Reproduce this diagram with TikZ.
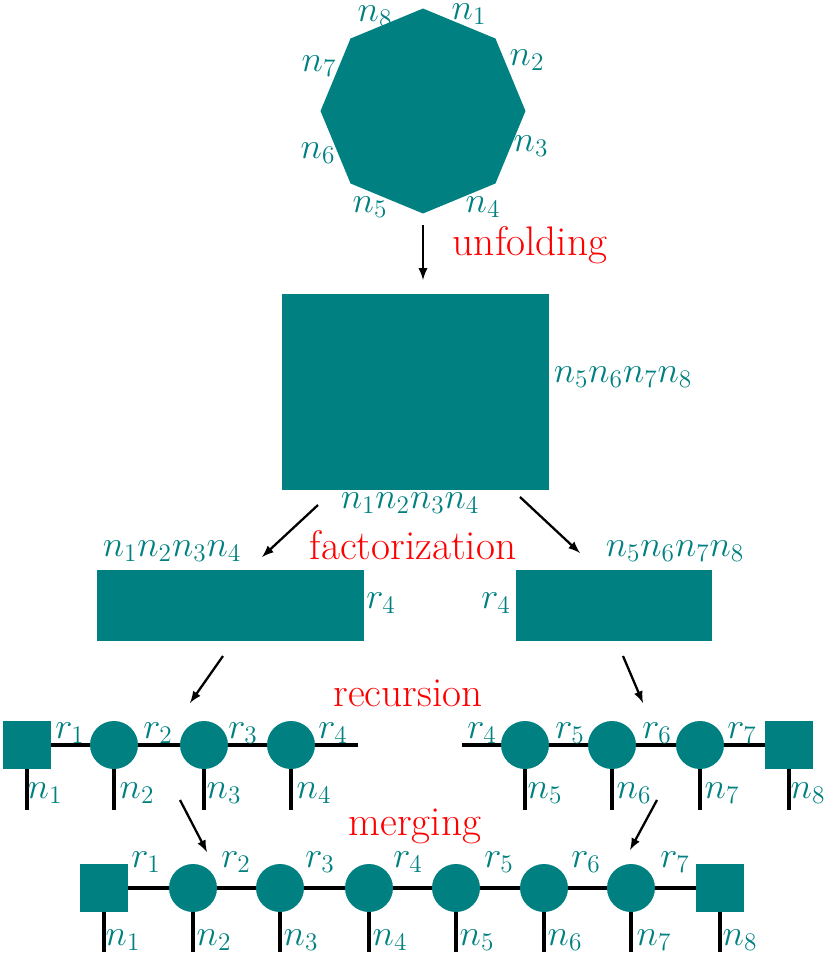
\documentclass[tikz,border=0pt]{standalone}
\usepackage{amsmath}
\usepackage{tikz}
\usetikzlibrary{arrows,shapes.geometric}
\definecolor{tealc}{RGB}{0,128,128}
\tikzset{
  lab/.style={text=tealc,font=\fontsize{20}{24}\selectfont},
  word/.style={text=red,font=\fontsize{23.5}{28}\selectfont},
  blk/.style={fill=tealc,draw=none},
  core/.style={circle,fill=tealc,minimum size=0.96cm,inner sep=0pt},
  edge/.style={fill=tealc,minimum size=0.96cm,inner sep=0pt},
  wire/.style={line width=2pt},
  arr/.style={-latex,line width=1.3pt}
}
\begin{document}
\begin{tikzpicture}[x=0.02cm,y=-0.02cm]
  \useasboundingbox (0,0) rectangle (830,968);
  % tensor
  \node (oct) [regular polygon,regular polygon sides=8,shape border rotate=22.5,
    minimum size=4.1cm,inner sep=0pt,fill=tealc] at (423,111) {};
  \node [lab] at (469,14) {$n_1$};
  \node [lab] at (527,60) {$n_2$};
  \node [lab] at (531,146) {$n_3$};
  \node [lab] at (483,207) {$n_4$};
  \node [lab] at (370,207) {$n_5$};
  \node [lab] at (318,153) {$n_6$};
  \node [lab] at (319,66) {$n_7$};
  \node [lab] at (375,16) {$n_8$};
  \node (a1) at (423,225) {};
  \node (a2) at (423,280) {};
  \draw [arr] (a1.center) to (a2.center);
  \node [word] at (530,245) {unfolding};
  % matrix
  \draw [blk] (282,294) rectangle (549,490);
  \node [lab] at (623,377) {$n_5n_6n_7n_8$};
  \node [lab] at (410,503) {$n_1n_2n_3n_4$};
  \node (b1) at (318,505) {};
  \node (b2) at (262,557) {};
  \node (b3) at (520,497) {};
  \node (b4) at (580,553) {};
  \draw [arr] (b1.center) to (b2.center);
  \draw [arr] (b3.center) to (b4.center);
  \node [word] at (413,545) {factorization};
  % factors
  \draw [blk] (97,570) rectangle (364,641);
  \draw [blk] (516,570) rectangle (712,641);
  \node [lab] at (172,551) {$n_1n_2n_3n_4$};
  \node [lab] at (381,603) {$r_4$};
  \node [lab] at (675,551) {$n_5n_6n_7n_8$};
  \node [lab] at (496,603) {$r_4$};
  \node (c1) at (223,656) {};
  \node (c2) at (190,703) {};
  \node (c3) at (623,656) {};
  \node (c4) at (643,703) {};
  \draw [arr] (c1.center) to (c2.center);
  \draw [arr] (c3.center) to (c4.center);
  \node [word] at (408,693) {recursion};
  % left and right trains
  \coordinate (le) at (358,745);
  \coordinate (re) at (462,745);
  \draw [wire] (27,745) -- (le);
  \draw [wire] (re) -- (790,745);
  \foreach \x/\i in {27/1,114/2,204/3,291/4,525/5,612/6,700/7,789/8}
    \draw [wire] (\x,745) -- (\x,810);
  \node (l1) [edge] at (27,745) {};
  \foreach \x/\i in {114/2,204/3,291/4}
    \node (l\i) [core] at (\x,745) {};
  \foreach \x/\i in {525/5,612/6,700/7}
    \node (l\i) [core] at (\x,745) {};
  \node (l8) [edge] at (789,745) {};
  \foreach \x/\i in {70/1,158/2,243/3,333/4,482/4,570/5,657/6,742/7}
    \node [lab] at (\x,733) {$r_{\i}$};
  \foreach \x/\i in {45/1,137/2,224/3,314/4,545/5,634/6,722/7,808/8}
    \node [lab] at (\x,793) {$n_{\i}$};
  \node (d1) at (180,800) {};
  \node (d2) at (207,852) {};
  \node (d3) at (657,800) {};
  \node (d4) at (630,850) {};
  \draw [arr] (d1.center) to (d2.center);
  \draw [arr] (d3.center) to (d4.center);
  \node [word] at (415,826) {merging};
  % merged train
  \draw [wire] (104,888) -- (720,888);
  \foreach \x in {104,193,280,369,456,544,631,720}
    \draw [wire] (\x,888) -- (\x,952);
  \node (m1) [edge] at (104,888) {};
  \foreach \x/\i in {193/2,280/3,369/4,456/5,544/6,631/7}
    \node (m\i) [core] at (\x,888) {};
  \node (m8) [edge] at (720,888) {};
  \foreach \x/\i in {146/1,236/2,320/3,408/4,499/5,586/6,675/7}
    \node [lab] at (\x,862) {$r_{\i}$};
  \foreach \x/\i in {123/1,214/2,301/3,390/4,477/5,565/6,654/7,740/8}
    \node [lab] at (\x,940) {$n_{\i}$};
\end{tikzpicture}
\end{document}
